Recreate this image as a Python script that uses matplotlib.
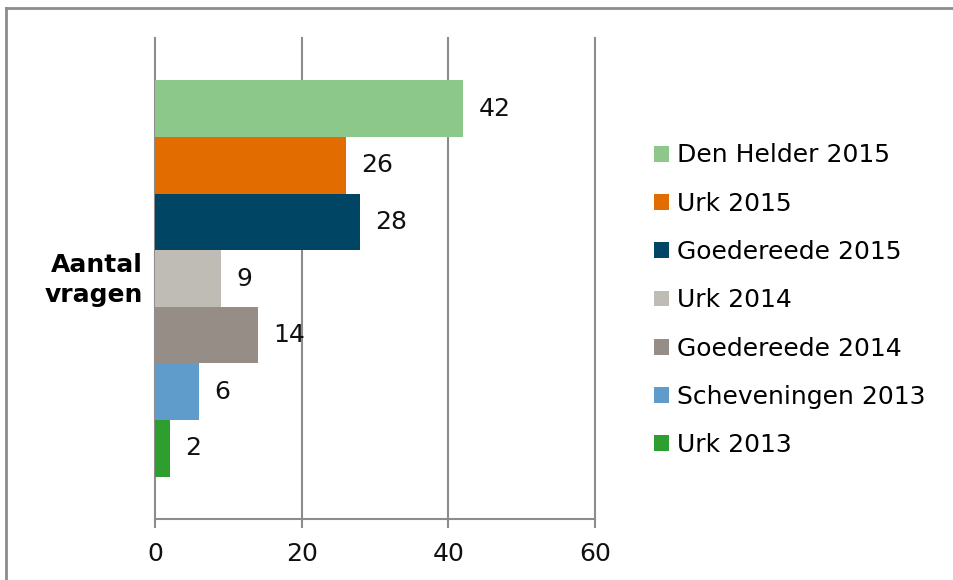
import numpy as np
import matplotlib
matplotlib.use("Agg")
import matplotlib.pyplot as plt
from matplotlib.patches import Patch

# Data
series = ["Den Helder 2015", "Urk 2015", "Goedereede 2015", "Urk 2014",
          "Goedereede 2014", "Scheveningen 2013", "Urk 2013"]
values = [42, 26, 28, 9, 14, 6, 2]
colors = ["#8DC88B", "#E36C00", "#004563", "#BFBCB5",
          "#958D86", "#5F9BCB", "#2E9E2E"]
category = "Aantal\nvragen"
xticks = [0, 20, 40, 60]

GRID = "#8C8C8C"
FS = 18
W, H = 954, 580

plt.rcParams["font.family"] = ["DejaVu Sans"]
fig = plt.figure(figsize=(W / 100, H / 100), dpi=100)
ax = fig.add_axes([155 / W, (H - 519) / H, 440 / W, 481 / H])

n = len(values)
span = 7 / 8.5
bh = span / n
ys = 0.5 - (1 - span) / 2 - bh * (np.arange(n) + 0.5)
for y, v, c in zip(ys, values, colors):
    ax.barh(y, v, height=bh, color=c, zorder=3, linewidth=0)
    ax.annotate(str(v), xy=(v, y), xytext=(11, 0), textcoords="offset points",
                ha="left", va="center", fontsize=FS, color="#111111")

ax.set_xlim(0, 60)
ax.set_ylim(-0.5, 0.5)
ax.set_xticks(xticks)
ax.set_xticklabels([str(t) for t in xticks], fontsize=FS)
ax.set_yticks([])
ax.grid(axis="x", color=GRID, linewidth=1.5, zorder=0)
for gl in ax.get_xgridlines():
    gl.set_clip_on(False)
for s in ["top", "right", "left"]:
    ax.spines[s].set_visible(False)
ax.spines["bottom"].set_color(GRID)
ax.spines["bottom"].set_linewidth(1.5)
ax.tick_params(axis="x", direction="out", length=6.5, width=1.5, color=GRID,
               pad=10, labelcolor="#111111")

fig.text(143 / W, 1 - 280 / H, category, ha="right", va="center",
         fontsize=FS, fontweight="bold", linespacing=1.3)

handles = [Patch(facecolor=c, label=s) for s, c in zip(series, colors)]
leg = fig.legend(handles=handles, loc="upper left",
                 bbox_to_anchor=(632 / W, 1 - 121 / H), frameon=False,
                 fontsize=FS, handlelength=0.6, handleheight=0.6,
                 handletextpad=0.32, labelspacing=0.97)

# outer chart border (left and top only visible)
fig.add_artist(plt.Line2D([6.5 / W, 6.5 / W], [0, 1 - 8 / H],
                          transform=fig.transFigure, color=GRID, lw=2))
fig.add_artist(plt.Line2D([6.5 / W, 1], [1 - 8 / H, 1 - 8 / H],
                          transform=fig.transFigure, color=GRID, lw=2))

fig.savefig("out.png", dpi=100, facecolor="white")
